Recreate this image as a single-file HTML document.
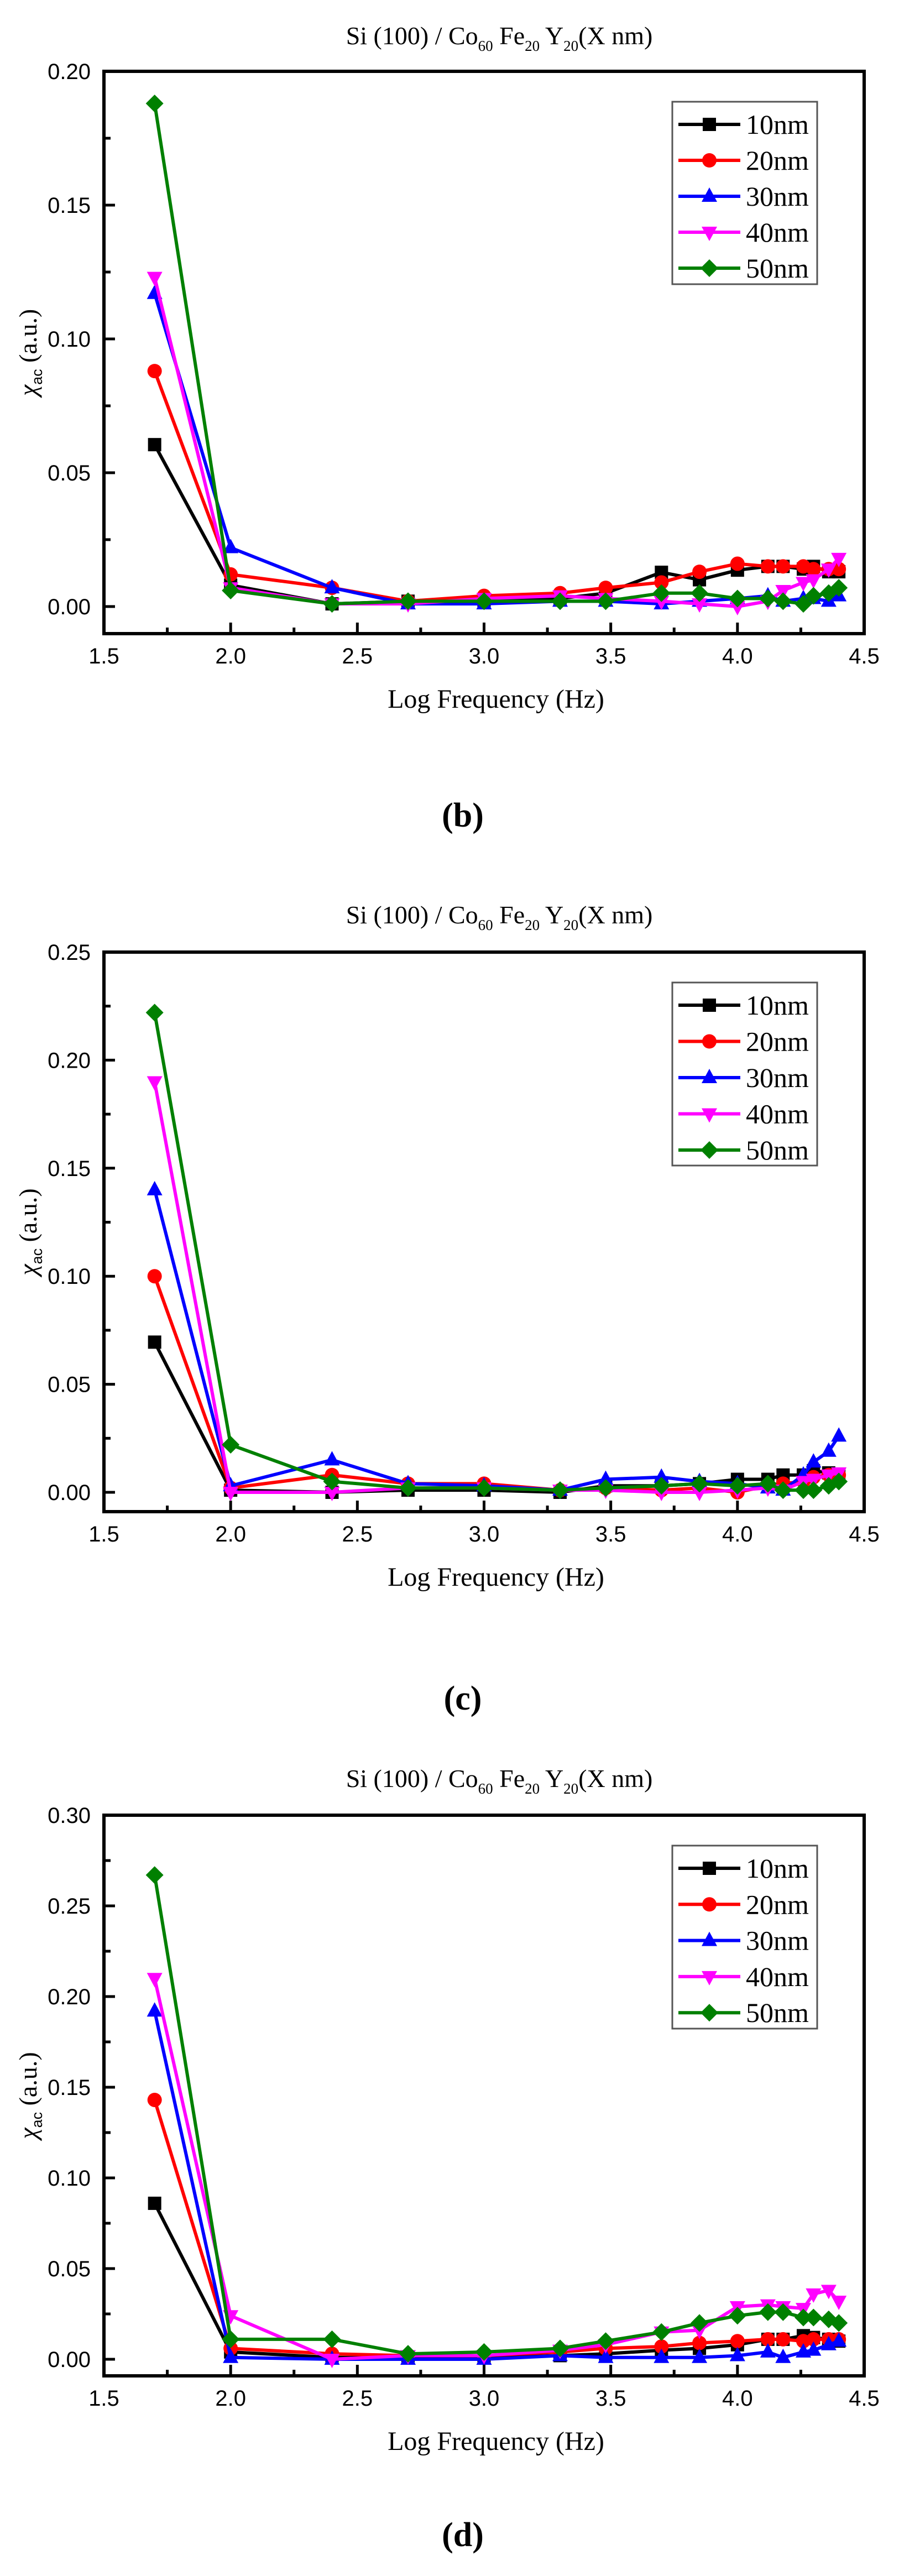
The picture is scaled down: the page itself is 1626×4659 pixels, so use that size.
<!DOCTYPE html>
<html><head><meta charset="utf-8"><title>Si(100)/CoFeY chi_ac vs log frequency</title>
<style>
html,body{margin:0;padding:0;background:#fff;}
svg{display:block;}
</style></head>
<body>
<svg id="fig" xmlns="http://www.w3.org/2000/svg" width="1626" height="4659" viewBox="0 0 1626 4659"></svg>
<script>
// Shared x values (log frequency)
const xValues = [1.7, 2.0, 2.4, 2.7, 3.0, 3.3, 3.48, 3.7, 3.85, 4.0, 4.12, 4.18, 4.26, 4.3, 4.36, 4.4];
const xTickLabels = ["1.5","2.0","2.5","3.0","3.5","4.0","4.5"];
const seriesNames = ["10nm","20nm","30nm","40nm","50nm"];

// Panel (b)
const b10 = [0.0605,0.008,0.001,0.002,0.002,0.003,0.005,0.0128,0.010,0.0136,0.015,0.015,0.014,0.015,0.013,0.013];
const b20 = [0.088,0.012,0.007,0.002,0.004,0.005,0.007,0.009,0.013,0.016,0.015,0.015,0.015,0.014,0.014,0.014];
const b30 = [0.117,0.022,0.007,0.001,0.001,0.002,0.002,0.001,0.002,0.003,0.004,0.002,0.003,0.003,0.002,0.004];
const b40 = [0.123,0.007,0.001,0.001,0.003,0.004,0.003,0.002,0.001,0.000,0.002,0.006,0.009,0.010,0.014,0.018];
const b50 = [0.188,0.006,0.001,0.002,0.002,0.002,0.002,0.005,0.005,0.003,0.003,0.002,0.001,0.004,0.005,0.007];
const bYTicks = ["0.00","0.05","0.10","0.15","0.20"];

// Panel (c)
const c10 = [0.0695,0.001,0.000,0.001,0.001,0.000,0.003,0.003,0.004,0.006,0.006,0.008,0.008,0.010,0.009,0.008];
const c20 = [0.100,0.002,0.008,0.004,0.004,0.001,0.002,0.001,0.002,0.000,0.003,0.004,0.005,0.007,0.008,0.008];
const c30 = [0.140,0.003,0.015,0.004,0.003,0.001,0.006,0.007,0.005,0.004,0.002,0.001,0.008,0.014,0.019,0.026];
const c40 = [0.190,0.000,0.000,0.002,0.002,0.001,0.001,0.000,0.000,0.001,0.002,0.001,0.005,0.006,0.008,0.009];
const c50 = [0.222,0.022,0.005,0.002,0.002,0.001,0.002,0.003,0.004,0.003,0.004,0.001,0.001,0.001,0.003,0.005];
const cYTicks = ["0.00","0.05","0.10","0.15","0.20","0.25"];

// Panel (d)
const d10 = [0.086,0.004,0.001,0.001,0.001,0.002,0.003,0.005,0.006,0.008,0.011,0.011,0.013,0.012,0.011,0.010];
const d20 = [0.143,0.006,0.003,0.002,0.002,0.004,0.006,0.007,0.009,0.010,0.011,0.011,0.010,0.011,0.011,0.011];
const d30 = [0.192,0.001,0.000,0.000,0.000,0.002,0.001,0.001,0.001,0.002,0.004,0.001,0.004,0.005,0.008,0.010];
const d40 = [0.210,0.024,0.000,0.002,0.002,0.005,0.008,0.015,0.016,0.029,0.030,0.029,0.028,0.036,0.038,0.032];
const d50 = [0.267,0.011,0.011,0.003,0.004,0.006,0.010,0.015,0.020,0.024,0.026,0.026,0.023,0.023,0.022,0.020];
const dYTicks = ["0.00","0.05","0.10","0.15","0.20","0.25","0.30"];

const colors = ["#000000","#ff0000","#0000ff","#ff00ff","#008000"];
const markers = ["square","circle","up","down","diamond"];

const NS = "http://www.w3.org/2000/svg";
const svg = document.getElementById("fig");
function el(tag, attrs, parent){
  const e = document.createElementNS(NS, tag);
  for (const k in attrs) e.setAttribute(k, attrs[k]);
  (parent||svg).appendChild(e);
  return e;
}

const LEFT = 188, RIGHT = 1563;
function xScale(v){ return LEFT + (v - 1.5) * (RIGHT - LEFT) / 3.0; }

function drawMarker(g, type, cx, cy, color){
  let m;
  const s = 12;
  if (type === "square") m = el("rect", {x:cx-s, y:cy-s, width:2*s, height:2*s, fill:color}, g);
  else if (type === "circle") m = el("circle", {cx:cx, cy:cy, r:s+1, fill:color}, g);
  else if (type === "up") m = el("polygon", {points:`${cx},${cy-16} ${cx+14},${cy+10} ${cx-14},${cy+10}`, fill:color}, g);
  else if (type === "down") m = el("polygon", {points:`${cx},${cy+16} ${cx+14},${cy-10} ${cx-14},${cy-10}`, fill:color}, g);
  else m = el("polygon", {points:`${cx},${cy-16} ${cx+16},${cy} ${cx},${cy+16} ${cx-16},${cy}`, fill:color}, g);
  return m;
}

function drawPanel(p){
  const g = el("g", {});
  
  
  const yScale = v => p.y0 - v * (p.y0 - p.top) / p.ymax;

  const t = el("text", {x:903, y:p.titleY, "text-anchor":"middle", "font-family":"Liberation Serif, serif", "font-size":46, fill:"#000"}, g);
  
  
  t.innerHTML = 'Si (100) / Co<tspan font-size="27" dy="12">60</tspan><tspan dy="-12"> Fe</tspan><tspan font-size="27" dy="12">20</tspan><tspan dy="-12"> Y</tspan><tspan font-size="27" dy="12">20</tspan><tspan dy="-12">(X nm)</tspan>';

  const frame = el("rect", {x:LEFT, y:p.top, width:RIGHT-LEFT, height:p.bottom-p.top, fill:"none", stroke:"#000", "stroke-width":6}, g);
  
  

  const yAxis = el("g", {}, g);
  
  
  const step = 0.05;
  for (let i = 0; i < p.yTicks.length; i++){
    const v = parseFloat(p.yTicks[i]);
    const y = yScale(v);
    el("line", {x1:LEFT, x2:LEFT+20, y1:y, y2:y, stroke:"#000", "stroke-width":5}, yAxis);
    const lbl = el("text", {x:164, y:y+14, "text-anchor":"end", "font-family":"Liberation Sans, sans-serif", "font-size":40, fill:"#000"}, yAxis);
    
    
    lbl.textContent = p.yTicks[i];
    if (v + step/2 <= p.ymax + 1e-9){
      const ym = yScale(v + step/2);
      el("line", {x1:LEFT, x2:LEFT+12, y1:ym, y2:ym, stroke:"#000", "stroke-width":5}, yAxis);
    }
  }

  const xAxis = el("g", {}, g);
  
  
  for (let i = 0; i < xTickLabels.length; i++){
    const v = parseFloat(xTickLabels[i]);
    const x = xScale(v);
    el("line", {x1:x, x2:x, y1:p.bottom, y2:p.bottom-20, stroke:"#000", "stroke-width":5}, xAxis);
    if (i < xTickLabels.length - 1){
      const xm = xScale(v + 0.25);
      el("line", {x1:xm, x2:xm, y1:p.bottom, y2:p.bottom-11, stroke:"#000", "stroke-width":5}, xAxis);
    }
    const lbl = el("text", {x:x, y:p.bottom+54, "text-anchor":"middle", "font-family":"Liberation Sans, sans-serif", "font-size":40, fill:"#000"}, xAxis);
    
    
    lbl.textContent = xTickLabels[i];
  }

  const xt = el("text", {x:897, y:p.bottom+134, "text-anchor":"middle", "font-family":"Liberation Serif, serif", "font-size":48, fill:"#000"}, g);
  
  
  xt.textContent = "Log Frequency (Hz)";
  const cy = (p.top + p.bottom) / 2;
  const yt = el("text", {x:0, y:0, transform:`translate(66,${cy}) rotate(-90)`, "text-anchor":"middle", "font-family":"Liberation Serif, serif", "font-size":46, fill:"#000"}, g);
  
  
  yt.innerHTML = '<tspan font-style="italic">χ</tspan><tspan font-family="Liberation Sans, sans-serif" font-size="27" dy="10">ac</tspan><tspan dy="-10"> (a.u.)</tspan>';

  for (let s = 0; s < p.series.length; s++){
    const vals = p.series[s];
    const sg = el("g", {}, g);
    
    
    const pts = vals.map((v, i) => xScale(xValues[i]) + "," + yScale(v)).join(" ");
    const line = el("polyline", {points:pts, fill:"none", stroke:colors[s], "stroke-width":6, "stroke-linejoin":"round"}, sg);
    
    
    for (let i = 0; i < vals.length; i++){
      const m = drawMarker(sg, markers[s], xScale(xValues[i]), yScale(vals[i]), colors[s]);
      
      
    }
  }

  const lg = el("g", {}, g);
  
  
  el("rect", {x:1216, y:p.legTop, width:262, height:p.legH, fill:"#fff", stroke:"#555", "stroke-width":3}, lg);
  for (let s = 0; s < seriesNames.length; s++){
    const ey = p.legTop + 41 + s * p.legStep;
    const entry = el("g", {}, lg);
    
    
    el("line", {x1:1227, x2:1339, y1:ey, y2:ey, stroke:colors[s], "stroke-width":6}, entry);
    drawMarker(entry, markers[s], 1283, ey, colors[s]);
    const tx = el("text", {x:1349, y:ey+17, "font-family":"Liberation Serif, serif", "font-size":50, fill:"#000"}, entry);
    tx.textContent = seriesNames[s];
  }

  const pl = el("text", {x:837, y:p.labelY, "text-anchor":"middle", "font-family":"Liberation Serif, serif", "font-size":62, "font-weight":"bold", fill:"#000"}, svg);
  
  
  pl.textContent = "(" + p.id + ")";
}

drawPanel({id:"b", top:129, bottom:1146, y0:1097, ymax:0.20, yTicks:bYTicks, titleY:80,
  series:[b10,b20,b30,b40,b50], legTop:184, legH:330, legStep:65, labelY:1495});
drawPanel({id:"c", top:1722, bottom:2734, y0:2699, ymax:0.25, yTicks:cYTicks, titleY:1670,
  series:[c10,c20,c30,c40,c50], legTop:1777, legH:331, legStep:65.5, labelY:3092});
drawPanel({id:"d", top:3283, bottom:4297, y0:4267, ymax:0.30, yTicks:dYTicks, titleY:3232,
  series:[d10,d20,d30,d40,d50], legTop:3338, legH:331, legStep:65.3, labelY:4605});
</script>
</body></html>
